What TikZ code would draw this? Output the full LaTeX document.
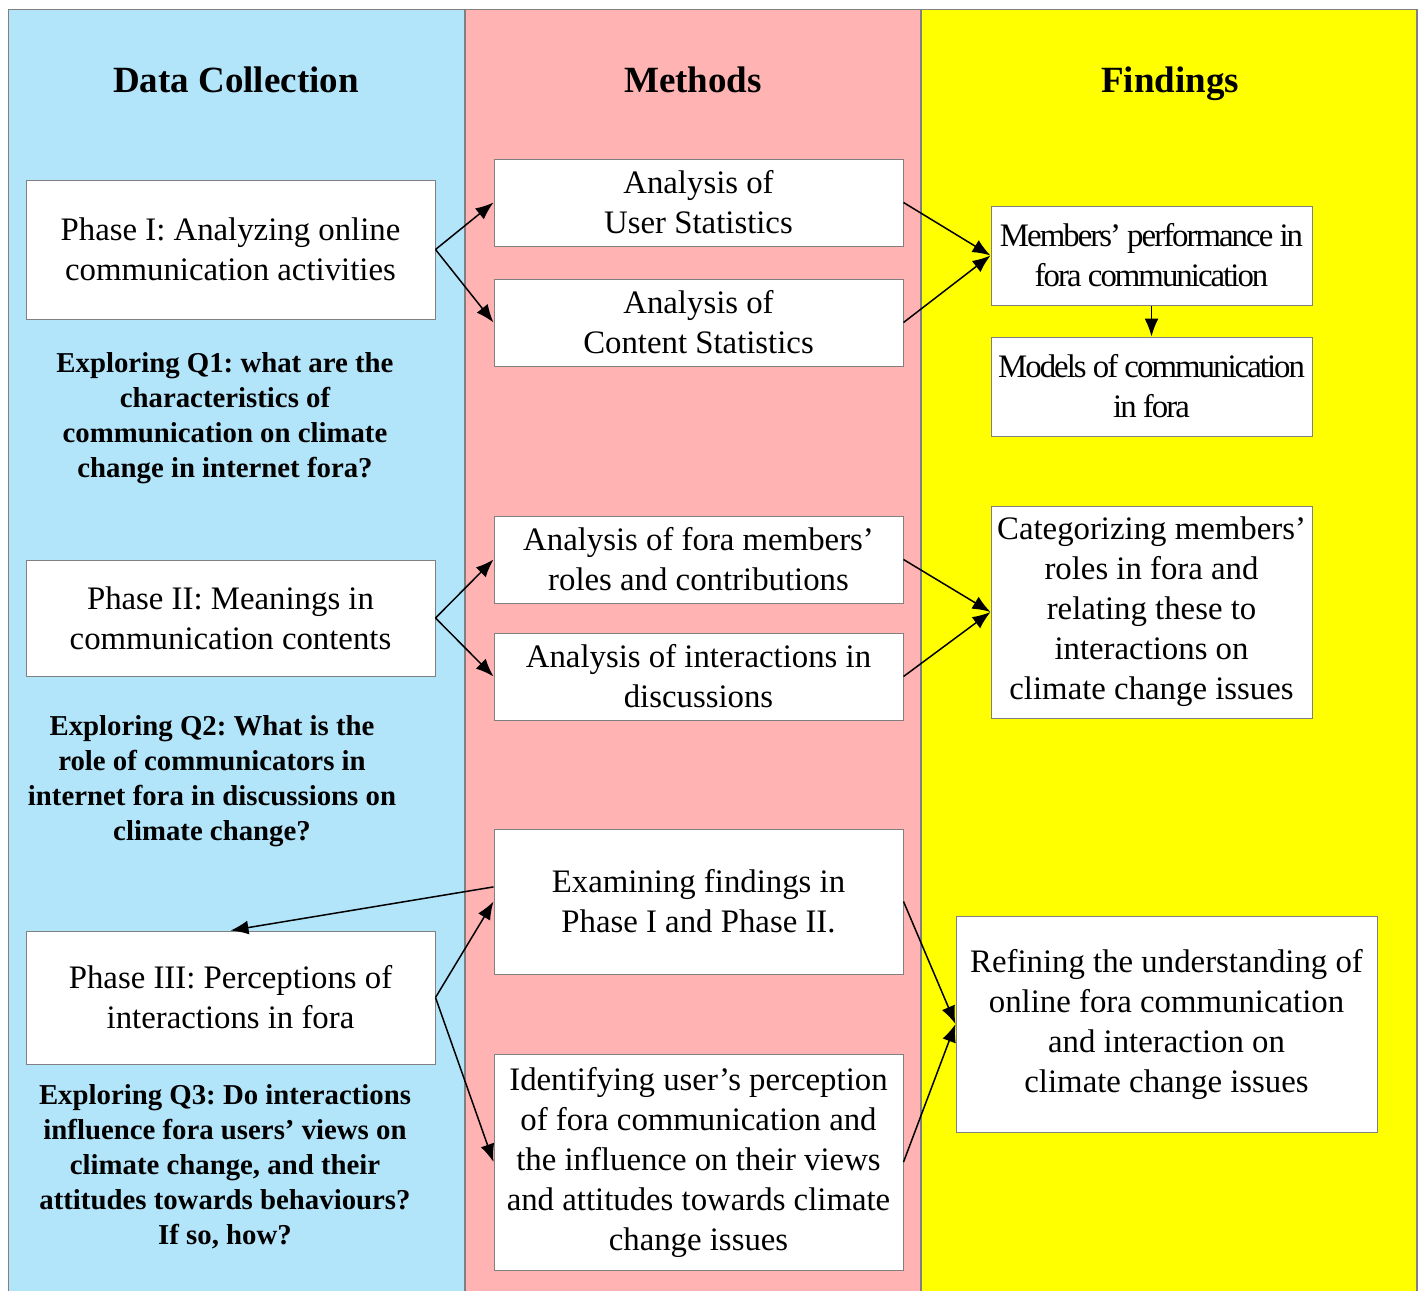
\documentclass[tikz,border=0pt]{standalone}
\usepackage{fontspec}
\setmainfont{Liberation Serif}
\newfontfamily\tightserif[LetterSpace=-6]{Liberation Serif}
\usetikzlibrary{arrows.meta,calc}
\frenchspacing

\definecolor{colblue}{RGB}{179,229,250}
\definecolor{colpink}{RGB}{255,179,179}
\definecolor{colyellow}{RGB}{255,255,0}
\definecolor{frame}{RGB}{128,128,128}

\tikzset{
  column/.style={draw=frame, line width=0.6pt},
  box/.style={draw=frame, fill=white, line width=0.5pt, align=center, inner sep=0pt,
    font={\fontsize{16.4}{20}\selectfont}},
  tightbox/.style={box, font={\tightserif\fontsize{16.4}{20}\selectfont}},
  header/.style={font={\fontsize{18.5}{22}\selectfont\bfseries}, inner sep=0pt, text depth=0pt},
  question/.style={align=center, inner sep=0pt, font={\fontsize{14.4}{17.5}\selectfont\bfseries}},
  flow/.style={-{Latex[length=9pt,width=7pt]}, line width=0.75pt, black},
}

\begin{document}
\begin{tikzpicture}[x=0.5pt, y=-0.5pt]
\useasboundingbox (0,0) rectangle (1422,1290);
\clip (0,0) rectangle (1422,1290);

% three column backgrounds
\draw[column, fill=colblue]   (8.5,9.5) rectangle (465,1300);
\draw[column, fill=colpink]   (465,9.5) rectangle (921,1300);
\draw[column, fill=colyellow] (921,9.5) rectangle (1417,1300);

% column headers
\node[header] (hdc) at (236,80) {Data Collection};
\node[header] (hme) at (693,80) {Methods};
\node[header] (hfi) at (1170,80) {Findings};

% data collection phases
\node[box, minimum width=204.5pt, minimum height=69.5pt] (ph1) at (230.5,249.5)
  {Phase I: Analyzing online\\communication activities};
\node[box, minimum width=204.5pt, minimum height=58pt] (ph2) at (230.5,618)
  {Phase II: Meanings in\\communication contents};
\node[box, minimum width=204.5pt, minimum height=66.5pt] (ph3) at (230.5,997.5)
  {Phase III: Perceptions of\\interactions in fora};

% research questions
\node[question] (q1) at (225,418.5)
  {Exploring Q1: what are the\\characteristics of\\communication on climate\\change in internet fora?};
\node[question] (q2) at (212,781)
  {Exploring Q2: What is the\\role of communicators in\\internet fora in discussions on\\climate change?};
\node[question] (q3) at (225,1166.5)
  {Exploring Q3: Do interactions\\influence fora users’ views on\\climate change, and their\\attitudes towards behaviours?\\If so, how?};

% methods
\node[box, minimum width=204.5pt, minimum height=43.5pt] (user) at (698.5,202.5)
  {Analysis of\\User Statistics};
\node[box, minimum width=204.5pt, minimum height=43.5pt] (content) at (698.5,322.5)
  {Analysis of\\Content Statistics};
\node[box, minimum width=204.5pt, minimum height=43.5pt] (roles) at (698.5,559.5)
  {Analysis of fora members’\\roles and contributions};
\node[box, minimum width=204.5pt, minimum height=43.5pt] (inter) at (698.5,676.5)
  {Analysis of interactions in\\discussions};
\node[box, minimum width=204.5pt, minimum height=72.5pt] (exam) at (698.5,901.5)
  {Examining findings in\\Phase I and Phase II.};
\node[box, minimum width=204.5pt, minimum height=108pt] (ident) at (698.5,1162)
  {Identifying user’s perception\\of fora communication and\\the influence on their views\\and attitudes towards climate\\change issues};

% findings
\node[tightbox, minimum width=160.5pt, minimum height=49.5pt] (perf) at (1151.5,255.5)
  {Members’ performance in\\fora communication};
\node[tightbox, minimum width=160.5pt, minimum height=49.5pt] (models) at (1151.5,386.5)
  {Models of communication\\in fora};
\node[box, minimum width=160.5pt, minimum height=106pt] (categ) at (1151.5,612)
  {Categorizing members’\\roles in fora and\\relating these to\\interactions on\\climate change issues};
\node[box, minimum width=210.5pt, minimum height=108pt] (refine) at (1166.5,1024)
  {Refining the understanding of\\online fora communication\\and interaction on\\climate change issues};

% connectors
\draw[flow] (ph1.east) -- (user.west);
\draw[flow] (ph1.east) -- (content.west);
\draw[flow] (ph2.east) -- (roles.west);
\draw[flow] (ph2.east) -- (inter.west);
\draw[flow] (ph3.east) -- (exam.west);
\draw[flow] (ph3.east) -- (ident.west);
\coordinate (examback) at ($(exam.north west)!0.4!(exam.south west)$);
\draw[flow] (examback) -- (ph3.north);

\draw[flow] (user.east) -- (perf.west);
\draw[flow] (content.east) -- (perf.west);
\draw[flow] (perf.south) -- (models.north);
\draw[flow] (roles.east) -- (categ.west);
\draw[flow] (inter.east) -- (categ.west);
\draw[flow] (exam.east) -- (refine.west);
\draw[flow] (ident.east) -- (refine.west);
\end{tikzpicture}
\end{document}
